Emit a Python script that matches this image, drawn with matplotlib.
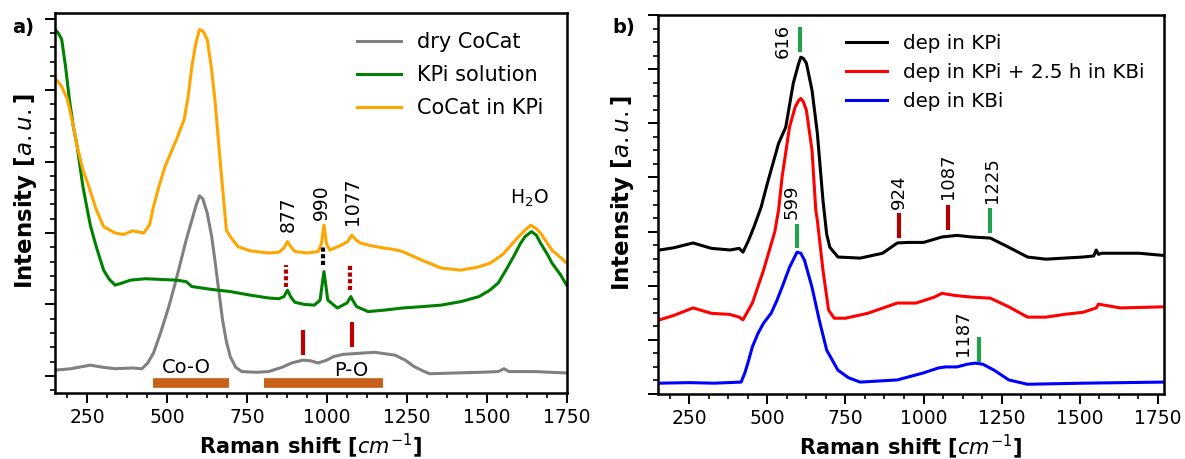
import matplotlib
matplotlib.use("Agg")
import matplotlib.pyplot as plt
from matplotlib.ticker import MultipleLocator

plt.rcParams["font.family"] = "DejaVu Sans"
plt.rcParams["mathtext.fontset"] = "dejavusans"

# ---------------- panel a: spectra ----------------
gray_x = [150, 200, 260, 300, 338, 392, 422, 440, 458, 480, 506, 525, 542, 560, 578,
          592, 602, 612, 626, 640, 650, 662, 674, 686, 698, 715, 734, 780, 818, 860,
          890, 925, 950, 973, 1000, 1021, 1050, 1081, 1150, 1213, 1245, 1273, 1300, 1321, 1400,
          1480, 1536, 1554, 1570, 1650, 1750]
gray_y = [0.08, 0.10, 0.15, 0.12, 0.10, 0.11, 0.10, 0.18, 0.32, 0.60, 0.97, 1.28, 1.58, 1.90, 2.18,
          2.40, 2.52, 2.48, 2.28, 1.95, 1.62, 1.20, 0.78, 0.48, 0.27, 0.12, 0.06, 0.05, 0.06, 0.12,
          0.18, 0.22, 0.21, 0.18, 0.22, 0.27, 0.30, 0.31, 0.33, 0.29, 0.22, 0.13, 0.07, 0.03, 0.04,
          0.05, 0.06, 0.10, 0.06, 0.06, 0.04]

green_x = [150, 160, 171, 183, 195, 207, 219, 237, 250, 261, 279, 302, 320, 338, 360,
           386, 434, 480, 530, 560, 578, 640, 698, 760, 818, 850, 866, 877, 888, 900,
           930, 961, 979, 986, 991, 996, 1003, 1033, 1063, 1070, 1075, 1082, 1093, 1129, 1180,
           1237, 1300, 1357, 1420, 1476, 1510, 1536, 1560, 1584, 1605, 1620, 1640, 1655, 1668, 1690,
           1704, 1730, 1750]
green_y = [4.85, 4.80, 4.71, 4.33, 3.87, 3.50, 3.22, 2.66, 2.35, 2.10, 1.81, 1.48, 1.35, 1.27, 1.30,
           1.34, 1.36, 1.35, 1.34, 1.32, 1.25, 1.21, 1.18, 1.13, 1.09, 1.08, 1.11, 1.20, 1.10, 1.03,
           1.00, 0.99, 1.06, 1.30, 1.46, 1.30, 1.06, 0.95, 1.02, 1.07, 1.11, 1.05, 0.97, 0.90, 0.92,
           0.95, 0.97, 0.99, 1.04, 1.11, 1.20, 1.30, 1.48, 1.67, 1.85, 1.95, 2.02, 1.97, 1.86, 1.70,
           1.58, 1.42, 1.27]

orange_x = [150, 171, 189, 207, 219, 237, 255, 279, 302, 338, 365, 392, 428, 446, 458,
            475, 494, 512, 530, 554, 566, 578, 590, 602, 614, 626, 638, 650, 668, 686,
            698, 722, 760, 818, 850, 866, 877, 890, 901, 940, 973, 983, 991, 999, 1009,
            1045, 1065, 1078, 1092, 1105, 1140, 1177, 1210, 1237, 1297, 1357, 1417, 1470, 1512, 1550,
            1572, 1600, 1620, 1638, 1655, 1668, 1704, 1730, 1750]
orange_y = [4.17, 4.05, 3.87, 3.50, 3.22, 2.89, 2.66, 2.33, 2.09, 2.00, 1.98, 2.03, 2.00, 2.12, 2.37,
            2.65, 2.93, 3.12, 3.31, 3.59, 3.90, 4.33, 4.65, 4.85, 4.82, 4.71, 4.35, 3.87, 2.93, 2.04,
            1.95, 1.81, 1.75, 1.72, 1.73, 1.79, 1.88, 1.79, 1.74, 1.72, 1.74, 1.85, 2.11, 1.85, 1.76,
            1.83, 1.88, 1.97, 1.90, 1.86, 1.82, 1.79, 1.77, 1.74, 1.62, 1.51, 1.48, 1.52, 1.58, 1.70,
            1.81, 1.95, 2.04, 2.11, 2.06, 2.00, 1.76, 1.66, 1.58]

a_names = ["dry CoCat", "KPi solution", "CoCat in KPi"]

# peak labels / markers in panel a
a_peak_text = ["877", "990", "1077"]
a_peak_x = [880, 982, 1079]
a_peak_y = [2.02, 2.18, 2.11]
a_dot_x = [872, 989, 1073]
a_dot_lo = [1.25, 1.55, 1.20]
a_dot_hi = [1.55, 1.83, 1.55]
a_dot_col = ["#b00000", "black", "#b00000"]
a_bar_x = [925, 1078]
a_bar_lo = [0.29, 0.41]
a_bar_hi = [0.64, 0.76]
band_names = ["Co-O", "P-O"]
band_lo = [458, 803]
band_hi = [695, 1175]
band_y = -0.10
band_text_x = [562, 1075]
band_text_y = [0.11, 0.07]

# ---------------- panel b: spectra ----------------
black_x = [155, 200, 262, 321, 381, 410, 422, 440, 458, 480, 500, 536, 559, 583, 600,
           607, 615, 625, 643, 660, 678, 690, 700, 726, 797, 869, 916, 952, 1000, 1059,
           1107, 1154, 1214, 1273, 1333, 1392, 1450, 1511, 1545, 1553, 1560, 1571, 1690, 1767]
black_y = [2.66, 2.70, 2.79, 2.69, 2.66, 2.69, 2.62, 2.84, 3.10, 3.45, 3.89, 4.63, 4.93, 5.74, 6.10,
           6.22, 6.20, 6.11, 5.61, 4.82, 3.58, 2.95, 2.71, 2.53, 2.51, 2.60, 2.79, 2.80, 2.80, 2.90,
           2.93, 2.90, 2.88, 2.71, 2.53, 2.49, 2.51, 2.53, 2.55, 2.66, 2.58, 2.60, 2.60, 2.56]

red_x = [155, 200, 262, 321, 380, 410, 422, 452, 488, 524, 536, 547, 571, 589, 600,
         607, 615, 625, 643, 655, 660, 678, 696, 714, 750, 821, 916, 976, 1035, 1059,
         1100, 1154, 1214, 1273, 1333, 1392, 1450, 1511, 1553, 1560, 1630, 1700, 1767]
red_y = [1.37, 1.45, 1.59, 1.49, 1.47, 1.42, 1.37, 1.68, 2.29, 3.00, 3.40, 4.00, 4.93, 5.30, 5.42,
         5.46, 5.40, 5.24, 4.50, 3.40, 3.21, 2.29, 1.55, 1.40, 1.40, 1.49, 1.68, 1.68, 1.79, 1.86,
         1.82, 1.79, 1.77, 1.61, 1.42, 1.42, 1.47, 1.51, 1.59, 1.66, 1.59, 1.60, 1.61]

blue_x = [155, 250, 330, 416, 428, 440, 452, 470, 488, 512, 530, 547, 571, 595, 607,
          619, 643, 666, 690, 726, 760, 797, 916, 1000, 1047, 1070, 1107, 1140, 1166, 1190,
          1226, 1273, 1333, 1511, 1767]
blue_y = [0.20, 0.21, 0.20, 0.22, 0.39, 0.62, 0.87, 1.12, 1.31, 1.49, 1.72, 1.97, 2.34, 2.62, 2.60,
          2.47, 1.97, 1.37, 0.81, 0.44, 0.30, 0.22, 0.26, 0.39, 0.48, 0.50, 0.50, 0.55, 0.57, 0.55,
          0.44, 0.26, 0.18, 0.20, 0.22]

b_names = ["dep in KPi", "dep in KPi + 2.5 h in KBi", "dep in KBi"]

# peak markers in panel b
b_bar_x = [605, 595, 1214, 1178, 920, 1079]
b_bar_lo = [6.31, 2.69, 2.97, 0.59, 2.88, 3.03]
b_bar_hi = [6.77, 3.14, 3.43, 1.05, 3.34, 3.49]
b_bar_col = ["#22a04b", "#22a04b", "#22a04b", "#22a04b", "#b00000", "#b00000"]
b_peak_text = ["616", "599", "1225", "1187", "924", "1087"]
b_peak_x = [548, 577, 1220, 1125, 922, 1077]
b_peak_y = [6.53, 3.56, 3.96, 1.12, 3.74, 4.02]


def style(ax, xlim, ylim, yminor):
    ax.set_xlim(*xlim)
    ax.set_ylim(*ylim)
    ax.xaxis.set_major_locator(MultipleLocator(250))
    ax.xaxis.set_minor_locator(MultipleLocator(62.5))
    ax.yaxis.set_major_locator(MultipleLocator(1))
    ax.yaxis.set_minor_locator(MultipleLocator(yminor))
    ax.tick_params(axis="y", labelleft=False)
    ax.tick_params(which="major", length=7, width=1.4, direction="out", labelsize=13.5, pad=4)
    ax.tick_params(which="minor", length=3.5, width=1.2, direction="out")
    for s in ax.spines.values():
        s.set_linewidth(1.8)
    ax.set_xlabel("Raman shift [$cm^{-1}$]", fontsize=15, fontweight="bold", labelpad=3)
    ax.set_ylabel("Intensity [$a.u.$]", fontsize=16.5, fontweight="bold")


fig = plt.figure(figsize=(11.85, 4.59), dpi=100)
axa = fig.add_axes([0.0464, 0.1438, 0.4318, 0.8279])
axb = fig.add_axes([0.5553, 0.1416, 0.4270, 0.8257])

# panel a
axa.plot(gray_x, gray_y, color="gray", lw=2.2, label=a_names[0])
axa.plot(green_x, green_y, color="green", lw=2.2, label=a_names[1])
axa.plot(orange_x, orange_y, color="orange", lw=2.2, label=a_names[2])

for t, x, y in zip(a_peak_text, a_peak_x, a_peak_y):
    axa.text(x, y, t, rotation=90, ha="center", va="bottom", fontsize=13.5)
for x, lo, hi, c in zip(a_dot_x, a_dot_lo, a_dot_hi, a_dot_col):
    axa.plot([x, x], [lo, hi], color=c, lw=3, linestyle=(0, (1, 0.6)), dash_capstyle="butt")
for x, lo, hi in zip(a_bar_x, a_bar_lo, a_bar_hi):
    axa.plot([x, x], [lo, hi], color="#c00000", lw=3, solid_capstyle="butt")
for name, lo, hi, tx, ty in zip(band_names, band_lo, band_hi, band_text_x, band_text_y):
    axa.plot([lo, hi], [band_y, band_y], color="#c8601a", lw=7, solid_capstyle="butt")
    axa.text(tx, ty, name, ha="center", va="center", fontsize=14)
axa.text(1632, 2.48, "H$_2$O", ha="center", va="center", fontsize=13.5)

style(axa, (150, 1750), (-0.24, 5.08), 0.2)
axa.yaxis.set_label_coords(-0.031, 0.53)
axa.legend(loc="upper left", bbox_to_anchor=(0.59, 0.95), frameon=False, fontsize=15,
           handlelength=2.1, handletextpad=0.8, labelspacing=0.62, borderpad=0, borderaxespad=0)

# panel b
axb.plot(black_x, black_y, color="black", lw=2.2, label=b_names[0])
axb.plot(red_x, red_y, color="red", lw=2.2, label=b_names[1])
axb.plot(blue_x, blue_y, color="blue", lw=2.2, label=b_names[2])

for x, lo, hi, c in zip(b_bar_x, b_bar_lo, b_bar_hi, b_bar_col):
    axb.plot([x, x], [lo, hi], color=c, lw=3, solid_capstyle="butt")
for t, x, y in zip(b_peak_text, b_peak_x, b_peak_y):
    axb.text(x, y, t, rotation=90, ha="center", va="center", fontsize=13)

style(axb, (150, 1770), (0, 7), 0.25)
axb.yaxis.set_label_coords(-0.043, 0.53)
axb.legend(loc="upper left", bbox_to_anchor=(0.371, 0.95), frameon=False, fontsize=14.3,
           handlelength=2.1, handletextpad=0.77, labelspacing=0.5, borderpad=0, borderaxespad=0)

fig.text(0.0101, 0.941, "a)", fontweight="bold", fontsize=14, va="center")
fig.text(0.517, 0.939, "b)", fontweight="bold", fontsize=14, va="center")

fig.savefig("out.png", dpi=100)
